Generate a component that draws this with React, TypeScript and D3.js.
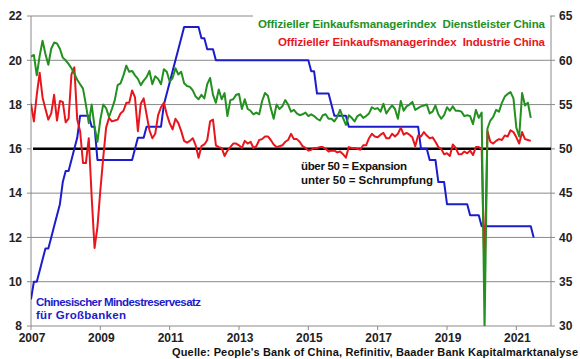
import React from "react";
import * as d3 from "d3";

const START_YEAR = 2007;

// Official manufacturing PMI (NBS), monthly from Jan 2007
const industrie: number[] = [
  55.1, 53.1, 56.1, 58.6, 55.8, 54.5, 53.3, 54.0, 56.1, 53.2, 55.4, 55.3,
  53.0, 53.4, 58.4, 59.2, 53.3, 52.0, 48.4, 48.4, 51.2, 44.6, 38.8, 41.2,
  45.3, 49.0, 52.4, 53.5, 53.1, 53.2, 53.3, 54.0, 54.3, 55.2, 55.2, 56.6,
  55.8, 52.0, 55.1, 55.7, 53.9, 52.1, 51.2, 51.7, 53.8, 54.7, 55.2, 53.9,
  52.9, 52.2, 53.4, 52.9, 52.0, 50.9, 50.7, 50.9, 51.2, 50.4, 49.0, 50.3,
  50.5, 51.0, 53.1, 53.3, 50.4, 50.2, 50.1, 49.2, 49.8, 50.2, 50.6, 50.6,
  50.4, 50.1, 50.9, 50.6, 50.8, 50.1, 50.3, 51.0, 51.1, 51.4, 51.4, 51.0,
  50.5, 50.2, 50.3, 50.4, 50.8, 51.0, 51.7, 51.1, 51.1, 50.8, 50.3, 50.1,
  49.8, 49.9, 50.1, 50.1, 50.2, 50.2, 50.0, 49.7, 49.8, 49.8, 49.6, 49.7,
  49.4, 49.0, 50.2, 50.1, 50.1, 50.0, 49.9, 50.4, 50.4, 51.2, 51.7, 51.4,
  51.3, 51.6, 51.8, 51.2, 51.2, 51.7, 51.4, 51.7, 52.4, 51.6, 51.8, 51.6,
  51.3, 50.3, 51.5, 51.4, 51.9, 51.5, 51.2, 51.3, 50.8, 50.2, 50.0, 49.4,
  49.5, 49.2, 50.5, 50.1, 49.4, 49.4, 49.7, 49.5, 49.8, 49.3, 50.2, 50.2,
  50.0, 35.7, 52.0, 50.8, 50.6, 50.9, 51.1, 51.0, 51.5, 51.4, 52.1, 51.9,
  51.3, 50.6, 51.9, 51.1, 51.0, 50.9,
];

// Official non-manufacturing PMI (NBS), monthly from Jan 2007
const dienstleister: number[] = [
  60.4, 60.6, 58.3, 60.5, 62.2, 60.7, 59.5, 61.3, 62.0, 61.9, 61.3, 60.3,
  60.0, 59.6, 59.1, 58.5, 57.8, 57.3, 56.8, 55.0, 52.9, 55.0, 52.5, 50.8,
  53.3, 55.0, 54.6, 53.6, 54.5, 55.5, 57.2, 57.4, 58.3, 59.4, 58.7, 58.8,
  58.3, 57.9, 57.2, 57.7, 58.1, 58.8, 57.3, 58.2, 57.9, 57.3, 59.0, 58.7,
  57.6, 58.0, 59.1, 58.4, 58.7, 57.4, 57.1, 57.0, 56.6, 55.9, 55.6, 56.1,
  55.7, 57.3, 58.0, 56.1, 55.2, 56.7, 55.6, 56.3, 53.7, 55.5, 55.6, 56.1,
  56.2, 54.5, 55.6, 54.5, 54.3, 53.9, 54.1, 53.9, 55.4, 56.3, 56.0, 54.6,
  53.4, 55.0, 54.5, 54.8, 55.5, 55.0, 54.2, 54.4, 54.0, 53.8, 53.9, 54.1,
  53.7, 53.9, 53.7, 53.4, 53.2, 53.8, 53.9, 53.4, 53.4, 53.1, 53.6, 54.4,
  53.5, 52.7, 53.8, 53.5, 53.1, 53.7, 53.9, 53.5, 53.7, 54.0, 54.7, 54.5,
  54.6, 54.2, 55.1, 54.0, 54.5, 54.9, 54.5, 53.4, 55.4, 54.3, 54.8, 55.0,
  55.3, 54.4, 54.6, 54.8, 54.9, 55.0, 54.0, 54.2, 54.9, 53.9, 53.4, 53.8,
  54.7, 54.3, 54.8, 54.3, 54.3, 54.2, 53.7, 53.8, 53.7, 52.8, 54.4, 53.5,
  54.1, 29.6, 52.3, 53.2, 53.6, 54.4, 54.2, 55.2, 55.9, 56.2, 56.4, 55.7,
  52.4, 51.4, 56.3, 54.9, 55.2, 53.5,
];

// Reserve requirement ratio for large banks (%), monthly from Jan 2007
const mindestreserve: number[] = [
  9.2, 10.0, 10.0, 10.5, 11.0, 11.5, 11.5, 12.0, 12.5, 13.0, 13.5, 14.5,
  15.0, 15.0, 15.5, 16.0, 16.5, 17.5, 17.5, 17.5, 17.5, 17.0, 17.0, 15.5,
  15.5, 15.5, 15.5, 15.5, 15.5, 15.5, 15.5, 15.5, 15.5, 15.5, 15.5, 15.5,
  16.0, 16.5, 16.5, 16.5, 17.0, 17.0, 17.0, 17.0, 17.0, 17.0, 18.0, 18.5,
  19.0, 19.5, 20.0, 20.5, 21.0, 21.5, 21.5, 21.5, 21.5, 21.5, 21.5, 21.0,
  21.0, 20.5, 20.5, 20.5, 20.0, 20.0, 20.0, 20.0, 20.0, 20.0, 20.0, 20.0,
  20.0, 20.0, 20.0, 20.0, 20.0, 20.0, 20.0, 20.0, 20.0, 20.0, 20.0, 20.0,
  20.0, 20.0, 20.0, 20.0, 20.0, 20.0, 20.0, 20.0, 20.0, 20.0, 20.0, 20.0,
  20.0, 19.5, 19.5, 18.5, 18.5, 18.5, 18.5, 18.5, 18.0, 17.5, 17.5, 17.5,
  17.5, 17.5, 17.0, 17.0, 17.0, 17.0, 17.0, 17.0, 17.0, 17.0, 17.0, 17.0,
  17.0, 17.0, 17.0, 17.0, 17.0, 17.0, 17.0, 17.0, 17.0, 17.0, 17.0, 17.0,
  17.0, 17.0, 17.0, 16.0, 16.0, 16.0, 15.5, 15.5, 15.5, 14.5, 14.5, 14.5,
  13.5, 13.5, 13.5, 13.5, 13.5, 13.5, 13.5, 13.5, 13.0, 13.0, 13.0, 13.0,
  12.5, 12.5, 12.5, 12.5, 12.5, 12.5, 12.5, 12.5, 12.5, 12.5, 12.5, 12.5,
  12.5, 12.5, 12.5, 12.5, 12.5, 12.5, 12.0,
];

const leftTicks = [8, 10, 12, 14, 16, 18, 20, 22];
const rightTicks = [30, 35, 40, 45, 50, 55, 60, 65];
const yearTicks = [2007, 2009, 2011, 2013, 2015, 2017, 2019, 2021];
const thresholdPMI = 50;

const legendServices = "Offizieller Einkaufsmanagerindex  Dienstleister China";
const legendIndustry = "Offizieller Einkaufsmanagerindex  Industrie China";
const rrrLabel = ["Chinesischer Mindestreservesatz", "für Großbanken"];
const noteLines = ["über 50 = Expansion", "unter 50 = Schrumpfung"];
const sourceText = "Quelle: People's Bank of China, Refinitiv, Baader Bank Kapitalmarktanalyse";

const W = 580;
const H = 359;
const X0 = 31, X1 = 551, Y0 = 16, Y1 = 326;

const GREEN = "#23901f";
const RED = "#e8161c";
const BLUE = "#1c1ccc";
const GRID = "#8a8a8a";
const FONT = "'Liberation Sans', Arial, sans-serif";

export default function App() {
  const x = d3.scaleLinear().domain([2007, 2022]).range([X0, X1]);
  const yL = d3.scaleLinear().domain([8, 22]).range([Y1, Y0]);
  const yR = d3.scaleLinear().domain([30, 65]).range([Y1, Y0]);
  const t = (i: number) => START_YEAR + i / 12;

  const lineR = d3.line<number>().x((_, i) => x(t(i))).y((d) => yR(d));
  const lineL = d3.line<number>().x((_, i) => x(t(i))).y((d) => yL(d));

  return (
    <svg width={W} height={H} style={{ position: "absolute", left: 0, top: 0, background: "#fff" }}
      fontFamily={FONT} fontWeight="bold">
      <defs>
        <clipPath id="plot">
          <rect x={X0} y={Y0} width={X1 - X0} height={Y1 - Y0} />
        </clipPath>
      </defs>
      <rect x={0} y={0} width={W} height={H} fill="#fff" />
      {/* gridlines */}
      {leftTicks.filter((v) => v !== 8 && v !== 16).map((v) => (
        <line key={v} x1={X0} x2={X1} y1={yL(v)} y2={yL(v)} stroke={GRID} strokeWidth={1} />
      ))}
      {/* axes */}
      <line x1={X0} x2={X0} y1={Y0} y2={Y1} stroke={GRID} />
      <line x1={X1} x2={X1} y1={Y0} y2={Y1} stroke={GRID} />
      <line x1={X0} x2={X1} y1={Y1} y2={Y1} stroke={GRID} />
      {leftTicks.map((v) => (
        <g key={"l" + v}>
          <line x1={X0 - 4} x2={X0} y1={yL(v)} y2={yL(v)} stroke={GRID} />
          <text x={22} y={yL(v)} dy="0.36em" textAnchor="end" fontSize={12} fill="#222">{v}</text>
        </g>
      ))}
      {rightTicks.map((v) => (
        <g key={"r" + v}>
          <line x1={X1} x2={X1 + 4} y1={yR(v)} y2={yR(v)} stroke={GRID} />
          <text x={559} y={yR(v)} dy="0.36em" textAnchor="start" fontSize={12} fill="#222">{v}</text>
        </g>
      ))}
      {yearTicks.map((v) => (
        <g key={"x" + v}>
          <line x1={x(v)} x2={x(v)} y1={Y1} y2={Y1 + 4} stroke={GRID} />
          <text x={x(v) + 1} y={342} textAnchor="middle" fontSize={12} fill="#222">{v}</text>
        </g>
      ))}
      {/* 50 threshold */}
      <line x1={X0 + 2} x2={X1} y1={yR(thresholdPMI)} y2={yR(thresholdPMI)} stroke="#000" strokeWidth={2.5} />
      {/* series */}
      <g clipPath="url(#plot)" fill="none" strokeWidth={2} strokeLinejoin="round">
        <path d={lineL(mindestreserve) || ""} stroke={BLUE} />
        <path d={lineR(industrie) || ""} stroke={RED} />
        <path d={lineR(dienstleister) || ""} stroke={GREEN} />
      </g>
      {/* legend box */}
      <rect x={253} y={15} width={297} height={36} fill="#fff" />
      <text x={258} y={28} fontSize={11.5} fill={GREEN} textLength={287} lengthAdjust="spacing" style={{ whiteSpace: "pre" }}>{legendServices}</text>
      <text x={278} y={46} fontSize={11.5} fill={RED} textLength={267} lengthAdjust="spacing" style={{ whiteSpace: "pre" }}>{legendIndustry}</text>
      {/* notes */}
      <text x={301} y={169.5} fontSize={11.5} fill="#111" textLength={106} lengthAdjust="spacing">{noteLines[0]}</text>
      <text x={301} y={183.5} fontSize={11.5} fill="#111" textLength={132} lengthAdjust="spacing">{noteLines[1]}</text>
      <text x={36} y={306} fontSize={11.5} fill={BLUE} textLength={165} lengthAdjust="spacing">{rrrLabel[0]}</text>
      <text x={36} y={319} fontSize={11.5} fill={BLUE} textLength={90} lengthAdjust="spacing">{rrrLabel[1]}</text>
      <text x={172} y={356} fontSize={11} fill="#111" textLength={406} lengthAdjust="spacing">{sourceText}</text>
    </svg>
  );
}
